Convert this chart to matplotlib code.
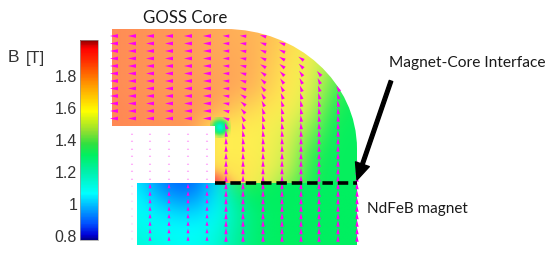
"""
Flux density map of a magnet and GOSS core, arrows show the field direction.
Axes of the map are in picture pixels.
"""
import matplotlib
matplotlib.use("Agg")
import matplotlib.pyplot as plt
import numpy as np
from matplotlib.cm import ScalarMappable
from matplotlib.collections import PolyCollection
from matplotlib.colors import LinearSegmentedColormap, Normalize
from matplotlib.patches import PathPatch
from matplotlib.path import Path

#-- colour scale --------------------------------------------------------------
b_min, b_max = 0.77, 2.02
scale_values = [0.77, 0.80, 0.87, 1.06, 1.20, 1.30, 1.37, 1.45, 1.575, 1.74, 1.90, 1.97, 2.02]
scale_colors = ['#00008c', '#0000d8', '#0050ff', '#00ffff', '#00f0a8', '#00f060', '#30e040',
                '#90e030', '#ffff00', '#ff9a00', '#ff2800', '#ff0000', '#8c0000']
#-- the core looks paler than the bar in the upper part of the scale
core_colors = ['#00008c', '#0000d8', '#0050ff', '#00ffff', '#00f0a8', '#00f060', '#30ec50',
               '#b0f050', '#fff050', '#ffa858', '#ff5c50', '#ff4040', '#c04040']
tick_values = [0.8, 1.0, 1.2, 1.4, 1.6, 1.8]
tick_labels = ['0.8', '1', '1.2', '1.4', '1.6', '1.8']

#-- B in the core, on a coarse grid -------------------------------------------
core_x = [112, 132, 152, 172, 192, 212, 232, 252, 272, 292, 312, 332, 352, 372]
core_y = [30, 50, 70, 90, 110, 130, 150, 170, 190]
core_b = [
    [1.80, 1.79, 1.78, 1.77, 1.76, 1.74, 1.72, 1.71, 1.68, 1.63, 1.57, 1.48, 1.38, 1.33],
    [1.80, 1.79, 1.78, 1.77, 1.76, 1.74, 1.73, 1.72, 1.67, 1.61, 1.55, 1.46, 1.37, 1.33],
    [1.80, 1.79, 1.78, 1.77, 1.76, 1.75, 1.74, 1.72, 1.65, 1.59, 1.54, 1.43, 1.34, 1.32],
    [1.80, 1.79, 1.78, 1.77, 1.77, 1.76, 1.74, 1.71, 1.63, 1.58, 1.52, 1.40, 1.32, 1.31],
    [1.81, 1.80, 1.79, 1.78, 1.78, 1.76, 1.67, 1.62, 1.59, 1.56, 1.48, 1.36, 1.31, 1.31],
    [1.81, 1.80, 1.79, 1.78, 1.78, 1.58, 1.58, 1.58, 1.56, 1.52, 1.42, 1.32, 1.31, 1.31],
    [1.80, 1.80, 1.79, 1.78, 1.76, 1.58, 1.58, 1.58, 1.55, 1.49, 1.38, 1.31, 1.31, 1.31],
    [1.80, 1.80, 1.79, 1.78, 1.76, 1.60, 1.60, 1.59, 1.54, 1.46, 1.34, 1.31, 1.31, 1.31],
    [1.80, 1.80, 1.79, 1.78, 1.76, 1.70, 1.62, 1.56, 1.48, 1.40, 1.33, 1.31, 1.31, 1.31],
]

#-- small green spot at the inner corner of the core
spot_x = [211, 214, 217, 220, 223, 226, 229]
spot_y = [120, 123, 126, 129, 132, 135, 138]
spot_b = [
    [1.45, 1.42, 1.40, 1.40, 1.42, 1.45, 1.50],
    [1.42, 1.34, 1.28, 1.26, 1.30, 1.38, 1.46],
    [1.38, 1.28, 1.18, 1.14, 1.22, 1.34, 1.44],
    [1.38, 1.26, 1.14, 1.10, 1.18, 1.32, 1.44],
    [1.40, 1.28, 1.20, 1.16, 1.22, 1.34, 1.46],
    [1.44, 1.36, 1.30, 1.28, 1.32, 1.40, 1.50],
    [1.50, 1.46, 1.42, 1.42, 1.44, 1.50, 1.54],
]
spot_alpha = [
    [0.0, 0.2, 0.4, 0.5, 0.4, 0.2, 0.0],
    [0.2, 0.7, 0.9, 1.0, 0.9, 0.7, 0.2],
    [0.4, 0.9, 1.0, 1.0, 1.0, 0.9, 0.4],
    [0.5, 1.0, 1.0, 1.0, 1.0, 1.0, 0.5],
    [0.4, 0.9, 1.0, 1.0, 1.0, 0.9, 0.4],
    [0.2, 0.7, 0.9, 1.0, 0.9, 0.7, 0.2],
    [0.0, 0.2, 0.4, 0.5, 0.4, 0.2, 0.0],
]

#-- red patch where the core meets the magnet
hot_x = [215, 222, 229, 236, 243]
hot_y = [160, 166, 172, 178, 184]
hot_b = [
    [1.66, 1.63, 1.60, 1.60, 1.60],
    [1.70, 1.66, 1.62, 1.60, 1.60],
    [1.78, 1.72, 1.66, 1.62, 1.60],
    [1.88, 1.80, 1.72, 1.66, 1.62],
    [1.94, 1.86, 1.78, 1.72, 1.66],
]
hot_alpha = [
    [0.0, 0.0, 0.0, 0.0, 0.0],
    [0.2, 0.1, 0.0, 0.0, 0.0],
    [0.6, 0.4, 0.2, 0.0, 0.0],
    [1.0, 0.8, 0.5, 0.2, 0.0],
    [1.0, 0.9, 0.7, 0.4, 0.2],
]

#-- B in the magnet -----------------------------------------------------------
magnet_x = [137, 157, 177, 197, 217, 237, 257, 277, 297, 317, 337, 357]
magnet_y = [184, 200, 215, 230, 246]
magnet_b = [
    [1.04, 0.95, 0.89, 0.91, 1.03, 1.38, 1.34, 1.30, 1.30, 1.30, 1.30, 1.30],
    [1.06, 1.00, 0.95, 0.96, 1.05, 1.24, 1.30, 1.30, 1.30, 1.30, 1.30, 1.30],
    [1.08, 1.05, 1.02, 1.02, 1.07, 1.20, 1.28, 1.30, 1.30, 1.30, 1.30, 1.30],
    [1.10, 1.08, 1.06, 1.06, 1.10, 1.21, 1.28, 1.30, 1.30, 1.30, 1.30, 1.30],
    [1.13, 1.10, 1.08, 1.08, 1.13, 1.22, 1.28, 1.30, 1.30, 1.30, 1.30, 1.30],
]

#-- arrows: columns and rows, angle in degrees (180 = left, 90 = up) ----------
nan = float('nan')
left_cols = [114, 132, 150, 169, 188, 207]
left_rows = [37, 44.5, 52, 59.5, 67, 74.5, 82, 89.5, 97, 104.5, 112, 119.5]
gap_cols = [132, 150, 169, 188, 207]
gap_rows = [135, 142, 150, 157, 165, 172, 180]
low_cols = [150, 169, 188, 207]
low_rows = [187, 194.5, 202, 209.5, 217, 224.5, 232, 239.5]

right_cols = [226, 243, 263, 282, 301, 319, 338, 357]
right_rows = [37, 44.5, 52, 59.5, 67, 74.5, 82, 89.5, 97, 104.5, 112, 119.5, 127, 134.5,
              142, 149.5, 157, 164.5, 172, 179.5, 187, 194.5, 202, 209.5, 217, 224.5, 232, 239.5]
angles_226 = [178, 178, 178, 178, 178, 178, 177, 176, 175, 172, 168, 160, 110, 95,
              92, 91, 90, 90, 90, 90, 90, 90, 90, 90, 90, 90, 90, 90]
angles_243 = [175, 174, 172, 170, 168, 165, 162, 158, 150, 142, 132, 120, 108, 100,
              96, 94, 92, 91, 90, 90, 90, 90, 90, 90, 90, 90, 90, 90]
angles_263 = [165, 162, 158, 155, 150, 145, 138, 130, 122, 116, 110, 105, 100, 96,
              94, 93, 92, 91, 90, 90, 90, 90, 90, 90, 90, 90, 90, 90]
angles_282 = [nan, 160, 155, 150, 143, 135, 125, 118, 112, 108, 104, 100, 97, 95,
              93, 92, 91, 90, 90, 90, 90, 90, 90, 90, 90, 90, 90, 90]
angles_301 = [nan, nan, nan, 145, 135, 125, 117, 110, 105, 102, 100, 97, 95, 94,
              92, 91, 90, 90, 90, 90, 90, 90, 90, 90, 90, 90, 90, 90]
angles_319 = [nan, nan, nan, nan, nan, 130, 115, 108, 104, 100, 97, 95, 94, 93,
              92, 91, 90, 90, 90, 90, 90, 90, 90, 90, 90, 90, 90, 90]
angles_338 = [nan, nan, nan, nan, nan, nan, nan, 120, 106, 100, 96, 94, 93, 92,
              91, 90, 90, 90, 90, 90, 90, 90, 90, 90, 90, 90, 90, 90]
angles_357 = [nan, nan, nan, nan, nan, nan, nan, nan, nan, nan, nan, nan, nan, nan,
              nan, nan, nan, 90, 90, 90, 90, 90, 90, 90, 90, 90, 90, 90]
#------------------------------------------------------------------------------


def make_cmap(name, colors):
    stops = [(v - b_min) / (b_max - b_min) for v in scale_values]
    return LinearSegmentedColormap.from_list(name, list(zip(stops, colors)), N=256)


bar_cmap = make_cmap('bar', scale_colors)
core_cmap = make_cmap('core', core_colors)
norm = Normalize(b_min, b_max)


def field_image(ax, xs, ys, values, clip, cmap=core_cmap, alpha=1.0):
    """
    Show values on a regular grid, with grid nodes at the cell centres.
    """
    dx = (xs[-1] - xs[0]) / (len(xs) - 1) / 2
    dy = (ys[-1] - ys[0]) / (len(ys) - 1) / 2
    im = ax.imshow(np.array(values), cmap=cmap, norm=norm, interpolation='bicubic',
                   interpolation_stage='rgba', alpha=alpha, aspect='auto', origin='upper',
                   extent=(xs[0] - dx, xs[-1] + dx, ys[-1] + dy, ys[0] - dy))
    im.set_clip_path(clip)
    return im


def wedges(ax, xs, ys, angles, length, wide, alpha=1.0):
    """
    Magenta triangles, the point shows the direction of the field.
    The y axis runs downwards, hence the minus sign on the sine.
    """
    X, Y = np.meshgrid(xs, ys)
    angles = np.radians(np.array(angles, dtype=float))
    ux, uy = np.cos(angles), -np.sin(angles)
    tip = np.stack([X + ux * length / 2, Y + uy * length / 2], axis=-1)
    base_x, base_y = X - ux * length / 2, Y - uy * length / 2
    side_a = np.stack([base_x - uy * wide / 2, base_y + ux * wide / 2], axis=-1)
    side_b = np.stack([base_x + uy * wide / 2, base_y - ux * wide / 2], axis=-1)
    triangles = np.stack([tip, side_a, side_b], axis=-2).reshape(-1, 3, 2)
    ax.add_collection(PolyCollection(triangles, facecolors='#ff00f0', edgecolors='none',
                                     alpha=alpha, zorder=4))


fig = plt.figure(figsize=(5.5, 2.55), dpi=100)
ax = fig.add_axes([0, 0, 1, 1])

#-- outlines of core and magnet
k = 0.5523
core_path = Path(
    [(112, 30), (225, 30), (225 + k * 132, 30), (357, 150 - k * 120), (357, 150),
     (357, 184), (215, 184), (215, 127), (112, 127), (112, 30)],
    [Path.MOVETO, Path.LINETO, Path.CURVE4, Path.CURVE4, Path.CURVE4,
     Path.LINETO, Path.LINETO, Path.LINETO, Path.LINETO, Path.CLOSEPOLY])
magnet_path = Path([(137, 184), (357, 184), (357, 246), (137, 246), (137, 184)], closed=True)
core_clip = PathPatch(core_path, transform=ax.transData)
magnet_clip = PathPatch(magnet_path, transform=ax.transData)

field_image(ax, core_x, core_y, core_b, core_clip)
field_image(ax, magnet_x, magnet_y, magnet_b, magnet_clip)
field_image(ax, spot_x, spot_y, spot_b, core_clip, alpha=np.array(spot_alpha))
field_image(ax, hot_x, hot_y, hot_b, core_clip, alpha=np.array(hot_alpha))

#-- arrows
wedges(ax, left_cols, left_rows, np.full((len(left_rows), len(left_cols)), 180.), 8, 3.8)
wedges(ax, gap_cols, gap_rows, np.full((len(gap_rows), len(gap_cols)), 90.), 2, 2.4, alpha=0.35)
wedges(ax, [132], low_rows, np.full((len(low_rows), 1), 90.), 2, 2.4, alpha=0.15)
wedges(ax, low_cols, low_rows, np.full((len(low_rows), len(low_cols)), 90.), 4.5, 3)
right_angles = np.array([angles_226, angles_243, angles_263, angles_282,
                         angles_301, angles_319, angles_338, angles_357]).T
for i, col in enumerate(right_cols):
    keep = ~np.isnan(right_angles[:, i])
    wedges(ax, [col], np.array(right_rows)[keep], right_angles[keep, i][:, None], 6.5, 3.4)

#-- the interface and the arrow pointing at it
ax.plot([215, 357], [184, 184], color='k', lw=2.6, dashes=(2.9, 1.35),
        dash_capstyle='butt', zorder=5)
ax.annotate('', xy=(357, 181), xytext=(391, 82), zorder=6,
            arrowprops=dict(width=2.6, headwidth=10.5, headlength=12, color='k', shrink=0))

ax.set_xlim(0, 550)
ax.set_ylim(255, 0)
ax.axis('off')

#-- labels
label_font = dict(family='Lato', color='#1a1a1a', va='center')
ax.text(143, 18, 'GOSS Core', fontsize=12.2, **label_font)
ax.text(389, 63, 'Magnet-Core Interface', fontsize=11.2, **label_font)
ax.text(367, 209, 'NdFeB magnet', fontsize=11, **label_font)
ax.text(8, 58, 'B', fontsize=12.5, family='Liberation Sans', color='#333333', va='center')
ax.text(26, 58, '[T]', fontsize=12, family='Liberation Sans', color='#333333', va='center')

#-- colour bar
cax = fig.add_axes([80 / 550, 1 - 241 / 255, 18 / 550, 200 / 255])
cbar = fig.colorbar(ScalarMappable(norm=norm, cmap=bar_cmap), cax=cax, ticks=tick_values)
cbar.ax.yaxis.set_ticks_position('left')
cbar.ax.set_yticklabels(tick_labels, family='Liberation Sans', fontsize=11.5, color='#333333')
cbar.ax.tick_params(length=0, pad=2)
cbar.outline.set_edgecolor('#999999')
cbar.outline.set_linewidth(0.5)

fig.savefig('out.png', dpi=100)
